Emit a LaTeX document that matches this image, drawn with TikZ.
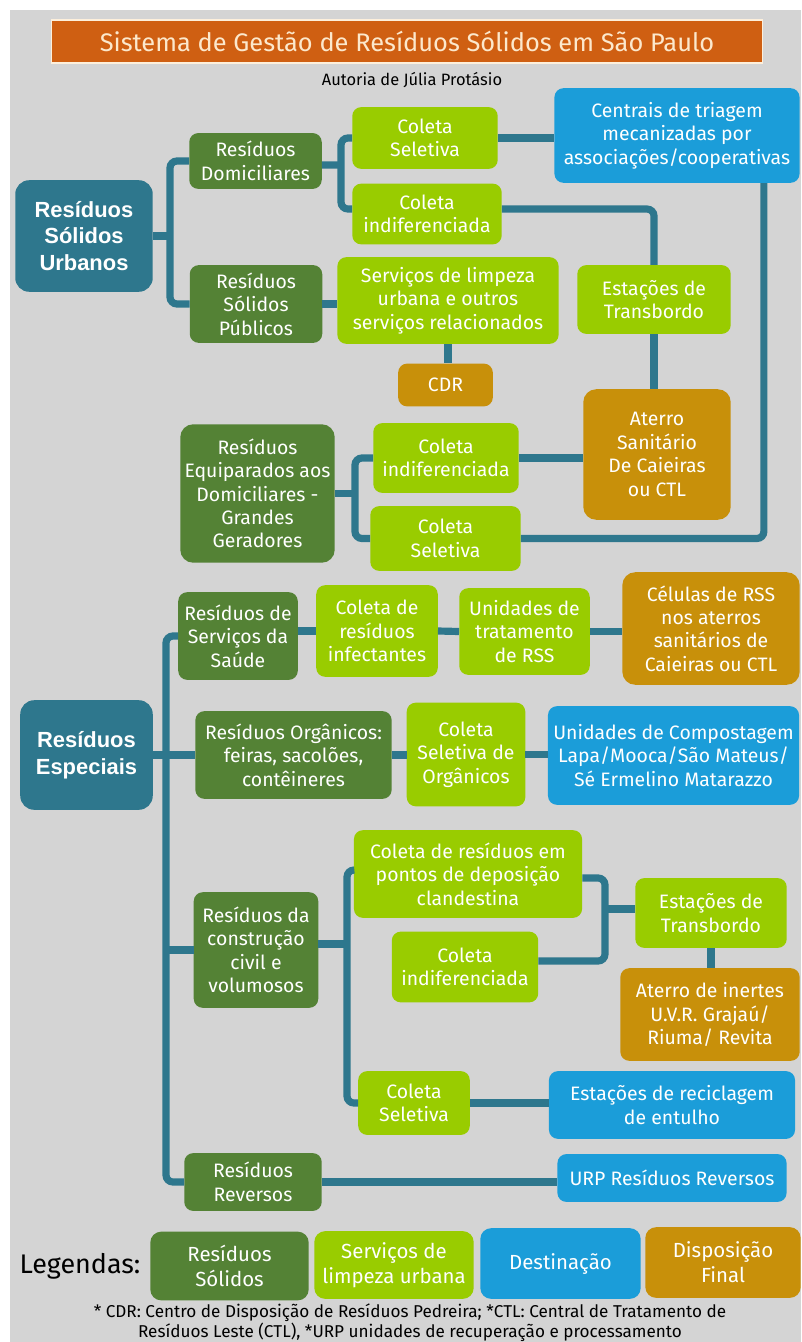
\documentclass[tikz,border=0pt]{standalone}
\usepackage{fontspec}
\setmainfont{Fira Sans}
\newfontfamily\fontecabeca{Liberation Sans}
\usetikzlibrary{positioning}
\definecolor{fundo}{HTML}{D4D4D4}
\definecolor{laranja}{HTML}{CF5F12}
\definecolor{creme}{HTML}{FCE8CC}
\definecolor{petroleo}{HTML}{2E778D}
\definecolor{verdeescuro}{HTML}{548235}
\definecolor{verdeclaro}{HTML}{99CC00}
\definecolor{azul}{HTML}{1B9DD9}
\definecolor{ocre}{HTML}{C8900A}
\tikzset{
  bloco/.style={rectangle, rounded corners=9pt, text=white, align=center,
    inner sep=0pt, font=\fontsize{19.5}{23.5}\selectfont},
  escuro/.style={bloco, fill=verdeescuro},
  claro/.style={bloco, fill=verdeclaro},
  destino/.style={bloco, fill=azul},
  disposicao/.style={bloco, fill=ocre},
  raiz/.style={bloco, fill=petroleo, rounded corners=14pt,
    font=\fontecabeca\bfseries\fontsize{22}{27}\selectfont},
  legenda/.style={rounded corners=11pt, font=\fontsize{20.5}{25}\selectfont},
  ligacao/.style={line width=7.2pt, color=petroleo, rounded corners=7pt},
  tam/.style 2 args={minimum width=#1, minimum height=#2},
}
\begin{document}
\begin{tikzpicture}[x=1bp, y=-1bp]
    \useasboundingbox (0,0) rectangle (801,1342);
    \fill[white] (0,0) rectangle (801,1342);
    \fill[fundo] (10,10) rectangle (801,1342);

    % Titulo
    \node[rectangle, fill=laranja, draw=creme!70!white, line width=1.5pt, text=creme,
          tam={714}{43}, inner sep=0pt, font=\fontsize{25.5}{30}\selectfont] (titulo) at (407,41.5)
      {Sistema de Gestão de Resíduos Sólidos em São Paulo};
    \node[font=\fontsize{16.5}{19}\selectfont, inner sep=0pt] (autoria) at (412,80) {Autoria de Júlia Protásio};

    % Residuos Solidos Urbanos
    \node[raiz, tam={138}{112}] (rsu) at (84,236) {Resíduos\\ Sólidos\\ Urbanos};
    \node[escuro, tam={133}{56}] (rd) at (255.5,161) {Resíduos\\ Domiciliares};
    \node[claro, tam={146}{62}] (cs1) at (425,138) {Coleta\\ Seletiva};
    \node[destino, tam={246}{95}] (centrais) at (677,135.5)
      {Centrais de triagem\\ mecanizadas por\\ associações/cooperativas};
    \node[claro, tam={150}{61}] (ci1) at (427,214) {Coleta\\ indiferenciada};
    \node[escuro, tam={133}{78}] (rsp) at (256,304) {Resíduos\\ Sólidos\\ Públicos};
    \node[claro, tam={222}{87}] (slu) at (448,300.5)
      {Serviços de limpeza\\ urbana e outros\\ serviços relacionados};
    \node[claro, tam={154}{69}] (est1) at (654,299.5) {Estações de\\ Transbordo};
    \node[disposicao, tam={95}{43}] (cdr) at (445.5,385) {CDR};
    \node[disposicao, tam={148}{131}, rounded corners=13pt] (aterro) at (657,454.5)
      {Aterro\\ Sanitário\\ De Caieiras\\ ou CTL};
    \node[escuro, tam={155}{139}, rounded corners=13pt] (req) at (257.5,493.5)
      {Resíduos\\ Equiparados aos\\ Domiciliares -\\ Grandes\\ Geradores};
    \node[claro, tam={146}{70}] (ci2) at (446,458) {Coleta\\ indiferenciada};
    \node[claro, tam={151}{65}] (cs2) at (445.5,538.5) {Coleta\\ Seletiva};

    % Residuos Especiais
    \node[raiz, tam={133}{110}] (re) at (86.5,755) {Resíduos\\ Especiais};
    \node[escuro, tam={120}{88}] (rss) at (238,636) {Resíduos de\\ Serviços da\\ Saúde};
    \node[claro, tam={122}{92}] (cri) at (377,631) {Coleta de\\ resíduos\\ infectantes};
    \node[claro, tam={131}{87}] (ut) at (524.5,631.5) {Unidades de\\ tratamento\\ de RSS};
    \node[disposicao, tam={178}{113}, rounded corners=13pt] (cel) at (711,628.5)
      {Células de RSS\\ nos aterros\\ sanitários de\\ Caieiras ou CTL};
    \node[escuro, tam={197}{88}] (ro) at (293.5,755) {Resíduos Orgânicos:\\ feiras, sacolões,\\ contêineres};
    \node[claro, tam={119}{104}] (cso) at (466,754.5) {Coleta\\ Seletiva de\\ Orgânicos};
    \node[destino, tam={252}{99}] (uc) at (673.5,755.5)
      {Unidades de Compostagem\\ Lapa/Mooca/São Mateus/\\ Sé Ermelino Matarazzo};
    \node[claro, tam={229}{88}] (crpd) at (468,874)
      {Coleta de resíduos em\\ pontos de deposição\\ clandestina};
    \node[escuro, tam={125}{116}] (rcc) at (256,950) {Resíduos da\\ construção\\ civil e\\ volumosos};
    \node[claro, tam={147}{71}] (ci3) at (465,967) {Coleta\\ indiferenciada};
    \node[claro, tam={152}{70}] (est3) at (711,913) {Estações de\\ Transbordo};
    \node[disposicao, tam={180}{93}] (inertes) at (710,1014.5)
      {Aterro de inertes\\ U.V.R. Grajaú/\\ Riuma/ Revita};
    \node[claro, tam={112}{64}] (cs4) at (414,1103) {Coleta\\ Seletiva};
    \node[destino, tam={247}{68}] (entulho) at (672,1105) {Estações de reciclagem\\ de entulho};
    \node[escuro, tam={138}{58}] (rr) at (253,1182) {Resíduos\\ Reversos};
    \node[destino, tam={230}{48}] (urp) at (672,1178) {URP Resíduos Reversos};

    % Ligacoes - urbanos
    \coordinate (busA) at (170,236);
    \draw[ligacao] (rd.west) -| (busA) |- (rsp.west);
    \draw[ligacao] (rsu.east) -- (busA);
    \coordinate (busB) at (341,165);
    \draw[ligacao] (cs1.west) -| (busB) |- ([yshift=5]ci1.west);
    \draw[ligacao] ([yshift=-4]rd.east) -- (busB);
    \draw[ligacao] (cs1.east) -- (cs1.east -| centrais.west);
    \draw[ligacao] ([yshift=5]ci1.east) -| (est1.north);
    \draw[ligacao] (est1.south) -- (est1.south |- aterro.north);
    \draw[ligacao] (rsp.east) -- (rsp.east -| slu.west);
    \draw[ligacao] (slu.south) -- (slu.south |- cdr.north);
    \draw[ligacao] ([xshift=-36]centrais.south east) |- (cs2.east);
    \coordinate (busC) at (355,493.5);
    \draw[ligacao] (ci2.west) -| (busC) |- (cs2.west);
    \draw[ligacao] (req.east) -- (busC);
    \draw[ligacao] (ci2.east) -- (ci2.east -| aterro.west);

    % Ligacoes - especiais
    \coordinate (busD) at (166,755);
    \draw[ligacao] (rss.west) -| (busD) |- (rr.west);
    \draw[ligacao] (re.east) -- (ro.west);
    \draw[ligacao] (busD |- rcc.west) -- (rcc.west);
    \draw[ligacao] (rss.east |- cri.west) -- (cri.west);
    \draw[ligacao] (cri.east) -- (ut.west);
    \draw[ligacao] (ut.east) -- (ut.east -| cel.west);
    \draw[ligacao] (ro.east) -- (ro.east -| cso.west);
    \draw[ligacao] (cso.east) -- (cso.east -| uc.west);
    \coordinate (busE) at (347,944);
    \draw[ligacao] ([yshift=4]crpd.west) -| (busE) |- (cs4.west);
    \draw[ligacao] (rcc.east |- busE) -- (busE);
    \coordinate (busF) at (605,909);
    \draw[ligacao] ([yshift=-4]crpd.east) -| (busF) |- ([yshift=6]ci3.east);
    \draw[ligacao] (busF) -- (busF -| est3.west);
    \draw[ligacao] (est3.south) -- (est3.south |- inertes.north);
    \draw[ligacao] (cs4.east) -- (cs4.east -| entulho.west);
    \draw[ligacao] (rr.east) -- (rr.east -| urp.west);

    % Legendas
    \node[font=\fontsize{27}{30}\selectfont, inner sep=0pt] (leg) at (80,1266) {Legendas:};
    \node[escuro, legenda, tam={159}{69}] (lg1) at (229.5,1266) {Resíduos\\ Sólidos};
    \node[claro, legenda, tam={160}{68}] (lg2) at (394,1265) {Serviços de\\ limpeza urbana};
    \node[destino, legenda, tam={161}{71}] (lg3) at (560.5,1263.5) {Destinação};
    \node[disposicao, legenda, tam={156}{71}] (lg4) at (723,1262.5) {Disposição\\ Final};
    \node[font=\fontsize{17.2}{20}\selectfont, align=center, inner sep=0pt] (nota) at (410,1323)
      {* CDR: Centro de Disposição de Resíduos Pedreira; *CTL: Central de Tratamento  de\\
       Resíduos Leste (CTL), *URP unidades de recuperação e processamento};
\end{tikzpicture}
\end{document}
